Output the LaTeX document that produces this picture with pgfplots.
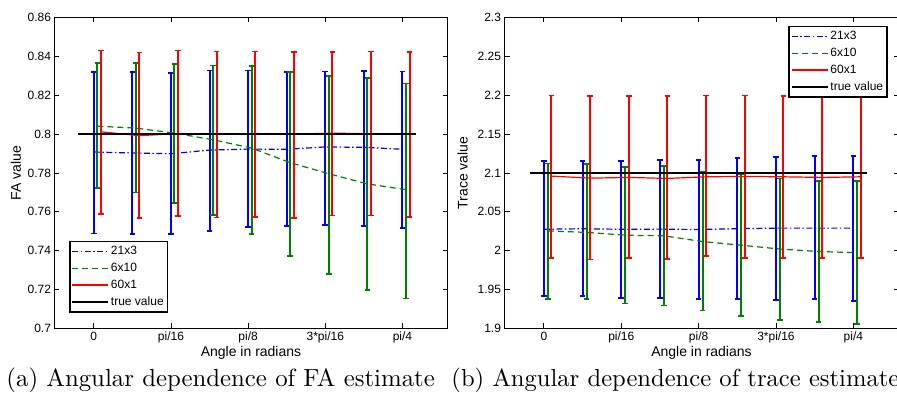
\documentclass[border=0pt]{standalone}
\usepackage{fontspec}
\setsansfont{Liberation Sans}
\usepackage{pgfplots}
\usepackage{pgfplotstable}
\pgfplotsset{compat=1.18}

\definecolor{mblue}{rgb}{0,0,1}
\definecolor{mgreen}{rgb}{0,0.5,0}
\definecolor{mred}{rgb}{1,0,0}

% FA estimate: angle, mean, top of bar, bottom of bar
\pgfplotstableread{
x m t b
0.0000 0.7908 0.8319 0.7489
0.0982 0.7903 0.8319 0.7486
0.1963 0.7899 0.8314 0.7486
0.2945 0.7918 0.8327 0.7503
0.3927 0.7923 0.8327 0.7523
0.4909 0.7922 0.8319 0.7527
0.5890 0.7934 0.8322 0.7532
0.6872 0.7932 0.8326 0.7527
0.7854 0.7922 0.8322 0.7516
}\FAblue
\pgfplotstableread{
x m t b
0.0000 0.8041 0.8365 0.7722
0.0982 0.8031 0.8365 0.7700
0.1963 0.8005 0.8360 0.7646
0.2945 0.7971 0.8353 0.7583
0.3927 0.7928 0.8349 0.7486
0.4909 0.7853 0.8319 0.7373
0.5890 0.7796 0.8298 0.7280
0.6872 0.7744 0.8288 0.7198
0.7854 0.7714 0.8261 0.7155
}\FAgreen
\pgfplotstableread{
x m t b
0.0000 0.8012 0.8431 0.7590
0.0982 0.7992 0.8419 0.7568
0.1963 0.8003 0.8431 0.7578
0.2945 0.8000 0.8426 0.7571
0.3927 0.8003 0.8426 0.7573
0.4909 0.8000 0.8423 0.7568
0.5890 0.8005 0.8423 0.7581
0.6872 0.8002 0.8426 0.7581
0.7854 0.8002 0.8423 0.7573
}\FAred

% trace estimate, in units of 1e-3
\pgfplotstableread{
x m t b
0.0000 2.0276 2.1157 1.9418
0.0982 2.0283 2.1157 1.9418
0.1963 2.0276 2.1157 1.9392
0.2945 2.0278 2.1170 1.9392
0.3927 2.0273 2.1170 1.9380
0.4909 2.0283 2.1192 1.9380
0.5890 2.0291 2.1205 1.9366
0.6872 2.0291 2.1218 1.9380
0.7854 2.0291 2.1218 1.9357
}\TRblue
\pgfplotstableread{
x m t b
0.0000 2.0255 2.1123 1.9380
0.0982 2.0236 2.1114 1.9380
0.1963 2.0200 2.1075 1.9324
0.2945 2.0192 2.1089 1.9298
0.3927 2.0118 2.1016 1.9229
0.4909 2.0071 2.0990 1.9161
0.5890 2.0022 2.0930 1.9113
0.6872 1.9990 2.0900 1.9080
0.7854 1.9975 2.0900 1.9054
}\TRgreen
\pgfplotstableread{
x m t b
0.0000 2.0960 2.1995 1.9910
0.0982 2.0934 2.1990 1.9885
0.1963 2.0943 2.1990 1.9910
0.2945 2.0930 2.1990 1.9897
0.3927 2.0951 2.1995 1.9932
0.4909 2.0956 2.1995 1.9906
0.5890 2.0951 2.1990 1.9906
0.6872 2.0943 2.1985 1.9906
0.7854 2.0951 2.1985 1.9906
}\TRred

\pgfplotsset{
  mat/.style={
    scale only axis, width=393pt, height=311pt,
    xmin=-0.1, xmax=0.9,
    xtick={0,0.19635,0.3927,0.58905,0.7854},
    xticklabels={0,pi/16,pi/8,3*pi/16,pi/4},
    axis line style={line width=1.5pt},
    tick style={line width=0.9pt, black},
    major tick length=5pt, tick align=inside,
    tick label style={font=\sffamily\fontsize{12}{14}\selectfont},
    label style={font=\sffamily\fontsize{14}{16}\selectfont},
    xlabel={Angle in radians},
    xlabel style={at={(axis description cs:0.5,-0.079)}, anchor=center},
    legend cell align=left,
    legend image code/.code={\draw[##1, line width=1.2pt] (0pt,0pt) -- (36pt,0pt);},
    legend style={draw=black, line width=1.5pt, fill=white,
      font=\sffamily\fontsize{12}{14}\selectfont, row sep=3pt,
      inner xsep=2pt, inner ysep=3pt},
  },
  ebar/.style={line width=1.2pt, forget plot,
    error bars/.cd, y dir=both, y explicit,
    error bar style={solid, line width=2pt},
    error mark options={rotate=90, solid, line width=1.6pt, mark size=2.8pt}},
  dd/.style={dash pattern=on 6pt off 2.5pt on 1.5pt off 2.5pt},
  dsh/.style={dash pattern=on 6pt off 4pt},
}

\begin{document}
\begin{tikzpicture}
\useasboundingbox (0,0) rectangle (897pt,403pt);
\clip (0,0) rectangle (897pt,403pt);

\begin{axis}[mat, at={(54.5pt,74.5pt)}, anchor=south west,
  ymin=0.7, ymax=0.86,
  ytick={0.7,0.72,0.74,0.76,0.78,0.8,0.82,0.84,0.86},
  yticklabels={0.7,0.72,0.74,0.76,0.78,0.8,0.82,0.84,0.86},
  ylabel={FA value},
  ylabel style={at={(axis description cs:-0.098,0.5)}, anchor=center},
  legend style={at={(axis description cs:0.037,0.05)}, anchor=south west},
]
\addplot[mblue, dd, ebar] table[x=x, y=m,
  y error plus expr=\thisrow{t}-\thisrow{m},
  y error minus expr=\thisrow{m}-\thisrow{b}] {\FAblue};
\addplot[mgreen, dsh, ebar] table[x expr=\thisrow{x}+0.009, y=m,
  y error plus expr=\thisrow{t}-\thisrow{m},
  y error minus expr=\thisrow{m}-\thisrow{b}] {\FAgreen};
\addplot[mred, ebar] table[x expr=\thisrow{x}+0.018, y=m,
  y error plus expr=\thisrow{t}-\thisrow{m},
  y error minus expr=\thisrow{m}-\thisrow{b}] {\FAred};
\addplot[black, line width=1.6pt, forget plot] coordinates {(-0.04,0.8) (0.82,0.8)};
\addlegendimage{mblue, dd}
\addlegendentry{21x3}
\addlegendimage{mgreen, dsh}
\addlegendentry{6x10}
\addlegendimage{mred}
\addlegendentry{60x1}
\addlegendimage{black}
\addlegendentry{true value}
\end{axis}

\begin{axis}[mat, at={(504.5pt,74.5pt)}, anchor=south west, width=394pt,
  ymin=1.9, ymax=2.3,
  ytick={1.9,1.95,2,2.05,2.1,2.15,2.2,2.25,2.3},
  yticklabels={1.9,1.95,2,2.05,2.1,2.15,2.2,2.25,2.3},
  ylabel={Trace value},
  ylabel style={at={(axis description cs:-0.106,0.5)}, anchor=center},
  legend style={at={(axis description cs:0.973,0.974)}, anchor=north east},
]
\addplot[mblue, dd, ebar] table[x=x, y=m,
  y error plus expr=\thisrow{t}-\thisrow{m},
  y error minus expr=\thisrow{m}-\thisrow{b}] {\TRblue};
\addplot[mgreen, dsh, ebar] table[x expr=\thisrow{x}+0.01, y=m,
  y error plus expr=\thisrow{t}-\thisrow{m},
  y error minus expr=\thisrow{m}-\thisrow{b}] {\TRgreen};
\addplot[mred, ebar] table[x expr=\thisrow{x}+0.019, y=m,
  y error plus expr=\thisrow{t}-\thisrow{m},
  y error minus expr=\thisrow{m}-\thisrow{b}] {\TRred};
\addplot[black, line width=1.6pt, forget plot] coordinates {(-0.035,2.1) (0.82,2.1)};
\addlegendimage{mblue, dd}
\addlegendentry{21x3}
\addlegendimage{mgreen, dsh}
\addlegendentry{6x10}
\addlegendimage{mred}
\addlegendentry{60x1}
\addlegendimage{black}
\addlegendentry{true value}
\node[anchor=south west, inner sep=0pt, font=\sffamily\fontsize{11}{13}\selectfont]
  at (rel axis cs:0,1) [yshift=3pt] {x 10\textsuperscript{-3}};
\end{axis}

\node[anchor=base west, inner sep=0pt, scale=2.48] at (6pt,16pt)
  {\rmfamily\fontsize{10}{12}\selectfont (a) Angular dependence of FA estimate};
\node[anchor=base west, inner sep=0pt, scale=2.46] at (451pt,16pt)
  {\rmfamily\fontsize{10}{12}\selectfont (b) Angular dependence of trace estimate};
\end{tikzpicture}
\end{document}
